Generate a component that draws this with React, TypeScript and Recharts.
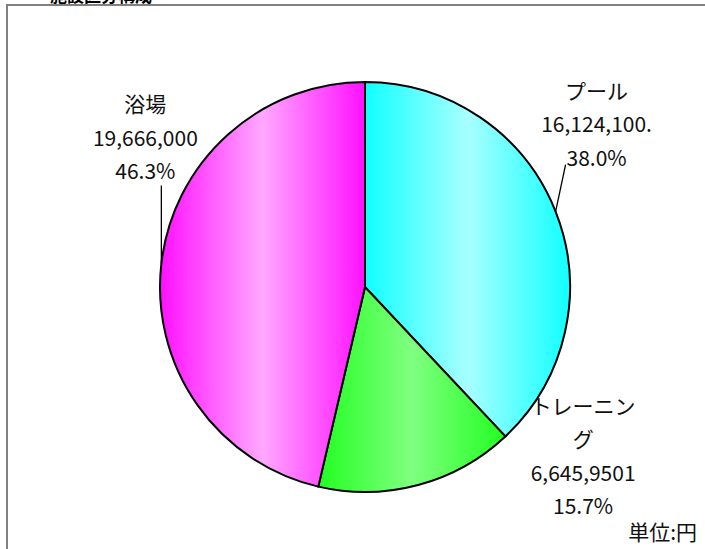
import React from 'react';
import { PieChart, Pie, Cell } from 'recharts';

// slice data, clockwise from 12 o'clock
const names = ['プール', 'トレーニング', '浴場'];
const values = [16124100, 6645950, 19666000];
// value labels exactly as printed on the chart
const valueLabels = ['16,124,100.', '6,645,9501', '19,666,000'];
// name split into printed lines
const nameLines = [['プール'], ['トレーニン', 'グ'], ['浴場']];

const title = '施設区分構成';
const unitLabel = '単位:円';

const gradients = [
  { id: 'gPool', edge: '#10FFFF', mid: '#A8FFFF' },
  { id: 'gTrain', edge: '#22FF22', mid: '#80FF80' },
  { id: 'gBath', edge: '#FF10FF', mid: '#FFA8FF' },
];

// label offsets from the slice's outer mid point
const labelPos = [
  { dx: 41, dy: -122, leader: { dx: 10, dy: -47 } },
  { dx: 165, dy: -80, leader: null },
  { dx: -16, dy: -160, leader: { dx: 0, dy: -78 } },
];

const data = names.map((name, i) => ({ name, value: values[i] }));

const FONT = '"Noto Sans CJK JP", "Noto Sans", sans-serif';
const RAD = Math.PI / 180;
const LINE_H = 33.5;

const renderLabel = (props: any) => {
  const { cx, cy, midAngle, outerRadius, percent, index } = props;
  const ex = cx + outerRadius * Math.cos(-midAngle * RAD);
  const ey = cy + outerRadius * Math.sin(-midAngle * RAD);
  const pos = labelPos[index];
  const lines = [...nameLines[index], valueLabels[index], `${(percent * 100).toFixed(1)}%`];
  const tx = ex + pos.dx;
  const ty = ey + pos.dy;
  return (
    <g key={`lbl-${index}`}>
      {pos.leader && (
        <line x1={ex} y1={ey} x2={ex + pos.leader.dx} y2={ey + pos.leader.dy} stroke="#000" strokeWidth={1.3} />
      )}
      {lines.map((t, k) => (
        <text
          key={k}
          x={tx}
          y={ty + k * LINE_H}
          textAnchor="middle"
          dominantBaseline="central"
          fontFamily={FONT}
          fontSize={21}
          fill="#111"
        >
          {t}
        </text>
      ))}
    </g>
  );
};

export default function App() {
  return (
    <div style={{ position: 'absolute', left: 0, top: 0, width: 705, height: 549, background: '#fff', overflow: 'hidden' }}>
      <svg width={705} height={549} style={{ position: 'absolute', left: 0, top: 0 }}>
        <rect x={7} y={5} width={720} height={570} fill="#fff" stroke="#808080" strokeWidth={2} />
        <text x={50} y={2} fontFamily={FONT} fontSize={17} fontWeight={700} fill="#000">{title}</text>
        <text x={697} y={531} textAnchor="end" dominantBaseline="central" fontFamily={FONT} fontSize={21} fill="#111">
          {unitLabel}
        </text>
      </svg>
      <div style={{ position: 'absolute', left: 0, top: 0 }}>
        <PieChart width={705} height={549} margin={{ top: 0, right: 0, bottom: 0, left: 0 }}>
          <defs>
            {gradients.map((g) => (
              <linearGradient key={g.id} id={g.id} x1="0" y1="0" x2="1" y2="0">
                <stop offset="0%" stopColor={g.edge} />
                <stop offset="50%" stopColor={g.mid} />
                <stop offset="100%" stopColor={g.edge} />
              </linearGradient>
            ))}
          </defs>
          <Pie
            data={data}
            dataKey="value"
            nameKey="name"
            cx={365}
            cy={287}
            outerRadius={205}
            startAngle={90}
            endAngle={-270}
            stroke="#000"
            strokeWidth={2}
            label={renderLabel}
            labelLine={false}
            isAnimationActive={false}
          >
            {data.map((d, i) => (
              <Cell key={d.name} fill={`url(#${gradients[i].id})`} />
            ))}
          </Pie>
        </PieChart>
      </div>
    </div>
  );
}
